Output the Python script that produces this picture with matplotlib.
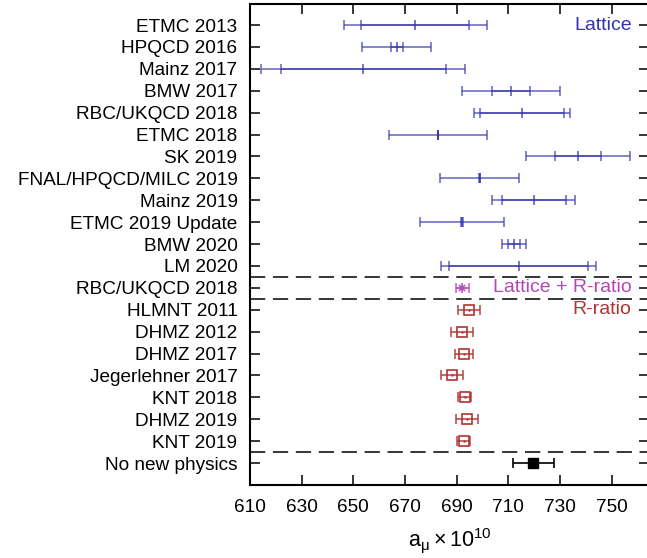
import numpy as np
import matplotlib
matplotlib.use('Agg')
import matplotlib.pyplot as plt

plt.rcParams['font.family'] = ['Liberation Sans', 'DejaVu Sans']
plt.rcParams['mathtext.fontset'] = 'custom'
plt.rcParams['mathtext.rm'] = 'Liberation Sans'
plt.rcParams['mathtext.it'] = 'Liberation Sans'
plt.rcParams['mathtext.default'] = 'regular'

# Lattice results: central value, inner (statistical) and total error
lattice_labels = ['ETMC 2013', 'HPQCD 2016', 'Mainz 2017', 'BMW 2017', 'RBC/UKQCD 2018',
                  'ETMC 2018', 'SK 2019', 'FNAL/HPQCD/MILC 2019', 'Mainz 2019',
                  'ETMC 2019 Update', 'BMW 2020', 'LM 2020']
lattice_values = [674.0, 666.8, 653.9, 711.0, 715.3, 682.9, 737.0, 698.9, 719.9, 692.1, 712.2, 714.0]
lattice_inner = [20.9, 2.3, 32.0, 7.4, 16.4, 0.0, 9.0, 0.3, 12.5, 0.4, 2.2, 27.0]
lattice_total = [27.6, 13.3, 39.5, 19.0, 18.6, 19.0, 20.2, 15.3, 16.0, 16.3, 4.5, 30.1]

# Lattice + R-ratio
combined_labels = ['RBC/UKQCD 2018']
combined_values = [692.2]
combined_err = [2.6]

# R-ratio
rratio_labels = ['HLMNT 2011', 'DHMZ 2012', 'DHMZ 2017', 'Jegerlehner 2017',
                 'KNT 2018', 'DHMZ 2019', 'KNT 2019']
rratio_values = [694.8, 692.2, 693.0, 688.1, 693.2, 693.9, 692.7]
rratio_err = [4.4, 4.3, 3.5, 4.2, 2.5, 4.2, 2.4]

# No new physics
nnp_labels = ['No new physics']
nnp_values = [719.7]
nnp_err = [8.0]

xticks = [610, 630, 650, 670, 690, 710, 730, 750]

blue = '#3434ae'
magenta = '#b845b8'
red = '#b03434'

fig = plt.figure(figsize=(6.47, 5.58), dpi=100)
ax = fig.add_axes([250 / 647, 1 - 485 / 558, 399 / 647, 481 / 558])

labels = lattice_labels + combined_labels + rratio_labels + nnp_labels
n_lat = len(lattice_labels)
y_lat = np.arange(n_lat)
y_comb = np.arange(len(combined_labels)) + n_lat
y_r = np.arange(len(rratio_labels)) + n_lat + len(combined_labels)
y_nnp = np.arange(len(nnp_labels)) + n_lat + len(combined_labels) + len(rratio_labels)

cap = 3.6
lw = 1.2

# lattice: outer and inner bars drawn on top of each other
ax.errorbar(lattice_values, y_lat, xerr=lattice_total, fmt='none', ecolor=blue,
            elinewidth=lw, capsize=cap, capthick=lw, alpha=0.7)
ax.errorbar(lattice_values, y_lat, xerr=lattice_inner, fmt='none', ecolor=blue,
            elinewidth=lw, capsize=cap, capthick=lw, alpha=0.7)
ax.plot(lattice_values, y_lat, ls='none', marker='|', ms=2 * cap, mew=lw, color=blue, alpha=0.8)

# lattice + R-ratio
ax.errorbar(combined_values, y_comb, xerr=combined_err, fmt='none', ecolor=magenta,
            elinewidth=lw, capsize=cap, capthick=lw, alpha=0.8)
ax.plot(combined_values, y_comb, ls='none', marker='+', ms=7, mew=1.1, color=magenta)
ax.plot(combined_values, y_comb, ls='none', marker='x', ms=5, mew=1.1, color=magenta)

# R-ratio
ax.errorbar(rratio_values, y_r, xerr=rratio_err, fmt='none', ecolor=red,
            elinewidth=lw, capsize=cap, capthick=lw, alpha=0.85)
ax.plot(rratio_values, y_r, ls='none', marker='s', ms=7, mfc='none', mec=red, mew=1.2)
ax.plot(rratio_values, y_r, ls='none', marker='.', ms=1.5, color=red)

# no new physics
ax.errorbar(nnp_values, y_nnp, xerr=nnp_err, fmt='none', ecolor='black',
            elinewidth=lw, capsize=cap, capthick=lw)
ax.plot(nnp_values, y_nnp, ls='none', marker='s', ms=7, color='black')

# group separators
for ysep in [n_lat - 0.5, y_comb[-1] + 0.5, y_r[-1] + 0.5]:
    ax.axhline(ysep, color='black', lw=1.1, dashes=(10, 5))

ax.text(757.8, y_lat[0], 'Lattice', color=blue, fontsize=14, ha='right', va='center')
ax.text(757.8, y_comb[0], 'Lattice + R-ratio', color=magenta, fontsize=14, ha='right', va='center')
ax.text(757.8, y_r[0], 'R-ratio', color=red, fontsize=14, ha='right', va='center')

ax.set_xlim(610, 764.5)
ax.set_ylim(len(labels) - 0.0, -0.96)
ax.set_xticks(xticks)
ax.set_yticks(np.arange(len(labels)))
ax.set_yticklabels(labels)
ax.tick_params(axis='both', direction='in', length=7, width=1.1, labelsize=13.7,
               top=True, right=True)
ax.tick_params(axis='y', pad=9)
ax.tick_params(axis='x', pad=10)
for s in ax.spines.values():
    s.set_linewidth(1.5)
ax.set_xlabel(r'$a_{\mu}\times10^{10}$', fontsize=15.5, labelpad=7)

fig.savefig('out.png', dpi=100)
